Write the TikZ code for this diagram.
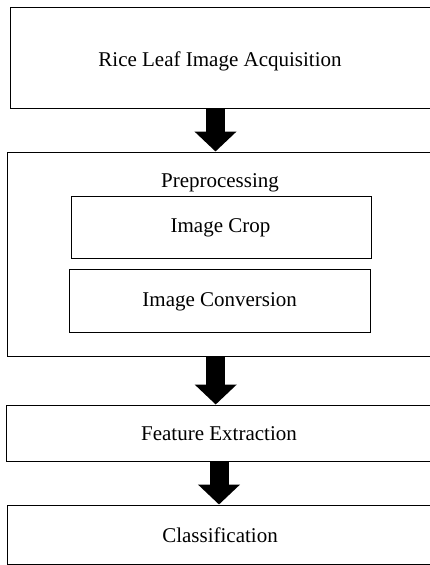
\documentclass[tikz,border=0pt]{standalone}
\usepackage{fontspec}
\setmainfont{Liberation Serif}
\usetikzlibrary{arrows.meta}
\begin{document}
\begin{tikzpicture}[x=1pt,y=-1pt,
  box/.style={draw, line width=1pt, inner sep=0pt},
  lbl/.style={anchor=base, inner sep=0pt, font=\fontsize{21}{25}\selectfont},
  fat/.style={line width=19pt, -{Triangle[width=41pt,length=20pt]}}]
\useasboundingbox (0,0) rectangle (430,565);
\clip (0,0) rectangle (430,565);
% boxes
\node[box, minimum width=424pt, minimum height=101pt] (b1) at (222,57.5) {};
\node[box, minimum width=427pt, minimum height=204pt] (b2) at (220.5,254) {};
\node[box, minimum width=300pt, minimum height=62pt] (crop) at (221,227) {};
\node[box, minimum width=301pt, minimum height=63pt] (conv) at (219.5,300.5) {};
\node[box, minimum width=428pt, minimum height=56pt] (b3) at (220,433) {};
\node[box, minimum width=427pt, minimum height=59pt] (b4) at (220.5,534.5) {};
% labels
\node[lbl] (t1) at (220,66) {Rice Leaf Image Acquisition};
\node[lbl] (t2) at (220,187) {Preprocessing};
\node[lbl] (t3) at (220.5,232) {Image Crop};
\node[lbl] (t4) at (219.7,306) {Image Conversion};
\node[lbl] (t5) at (219,440) {Feature Extraction};
\node[lbl] (t6) at (220,542) {Classification};
% arrows
\draw[fat] ([xshift=-6.5pt]b1.south) -- ([xshift=-6.5pt]b1.south |- b2.north);
\draw[fat] ([xshift=-4.8pt]b2.south) -- ([xshift=-4.8pt]b2.south |- b3.north);
\draw[fat] ([xshift=-1pt]b3.south) -- ([xshift=-1pt]b3.south |- b4.north);
\end{tikzpicture}
\end{document}
